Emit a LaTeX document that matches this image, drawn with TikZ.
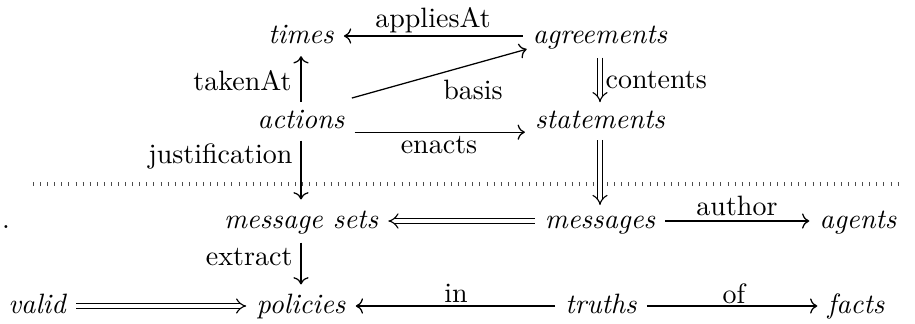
\documentclass[tikz,border=0pt]{standalone}
\usetikzlibrary{arrows.meta}
\begin{document}
\begin{tikzpicture}[x=0.357pt, y=-0.357pt,
  obj/.style={font=\itshape, anchor=base, text height=7pt, text depth=2pt, inner xsep=3.5pt, inner ysep=1pt},
  lab/.style={anchor=base, inner sep=0pt},
  ar/.style={draw, line width=0.45pt, -{Computer Modern Rightarrow}},
  dar/.style={draw, line width=0.4pt, double, double distance=1.5pt, -{Implies}},
  dotline/.style={draw, gray!60!black, line width=1.4pt, dash pattern=on 0.3pt off 2.23pt}
]
\useasboundingbox (0,0) rectangle (915,323);
% objects
\node[obj] (times) at (301,43) {times};
\node[obj] (agreements) at (600,43) {agreements};
\node[obj] (actions) at (301,128) {actions};
\node[obj] (statements) at (600,128) {statements};
\node[obj] (msets) at (301,228) {message sets};
\node[obj] (messages) at (600,228) {messages};
\node[obj] (agents) at (858,228) {agents};
\node[obj] (valid) at (37,313) {valid};
\node[obj] (policies) at (301,313) {policies};
\node[obj] (truths) at (601,313) {truths};
\node[obj] (facts) at (856,313) {facts};
\node[lab] (dot) at (6,228) {.};
% dotted separator
\coordinate (dl) at (33,184);
\coordinate (dr) at (902,184);
\draw[dotline] (dl) -- (dr);
% arrows
\draw[ar] (agreements) -- (times);
\draw[ar, shorten <=1pt, shorten >=1.5pt] (actions) -- (times);
\draw[ar] ([shift={(-1pt,2.5pt)}]actions.north east) -- ([shift={(1.5pt,1pt)}]agreements.south west);
\draw[ar] ([yshift=-4pt]actions.east) -- ([yshift=-4pt]statements.west);
\draw[dar, shorten <=2pt, shorten >=1pt] (agreements) -- (statements);
\draw[dar, shorten <=1pt] (statements) -- (messages);
\draw[ar, shorten <=1.3pt, shorten >=2pt] (actions) -- (msets);
\draw[dar] (messages) -- (msets);
\draw[ar] (messages) -- (agents);
\draw[ar, shorten <=2pt, shorten >=2pt] (msets) -- (policies);
\draw[dar] (valid) -- (policies);
\draw[ar] (truths) -- (policies);
\draw[ar] (truths) -- (facts);
% labels
\node[lab] (lapplies) at (433,27) {appliesAt};
\node[lab, anchor=base east] (ltaken) at (292,90) {takenAt};
\node[lab] (lbasis) at (473,99) {basis};
\node[lab] (lenacts) at (439,153) {enacts};
\node[lab, anchor=base west] (lcontents) at (605,88) {contents};
\node[lab, anchor=base east] (ljust) at (293,163) {justification};
\node[lab] (lauthor) at (737,215) {author};
\node[lab, anchor=base east] (lextract) at (293,265) {extract};
\node[lab] (lin) at (456,302) {in};
\node[lab] (lof) at (734,303) {of};
\end{tikzpicture}
\end{document}
